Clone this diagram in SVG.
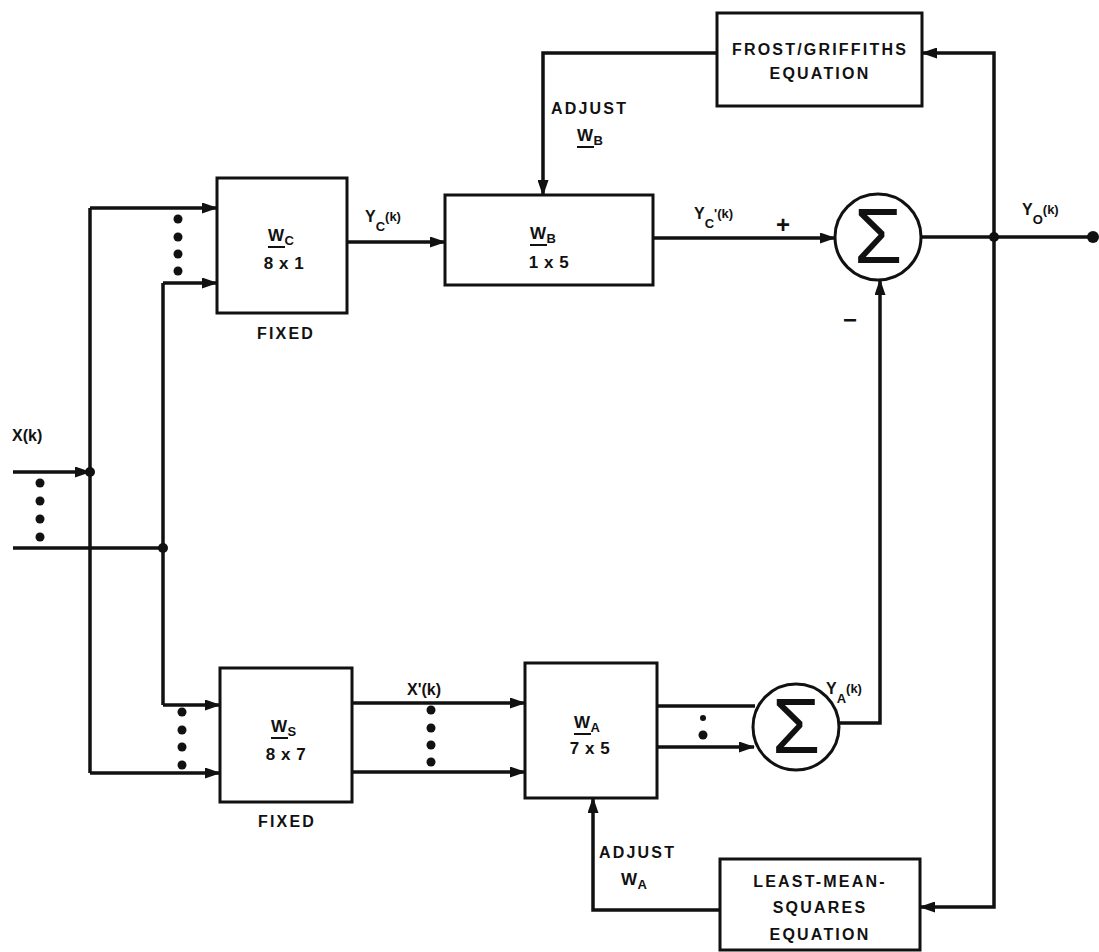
<svg xmlns="http://www.w3.org/2000/svg" width="1099" height="952" viewBox="0 0 1099 952">
<defs>
<marker id="ah" viewBox="0 0 16 11" refX="15" refY="5.5" markerWidth="16" markerHeight="11" markerUnits="userSpaceOnUse" orient="auto">
<path d="M0,0 L16,5.5 L0,11 Z" fill="#111"/>
</marker>
</defs>
<style>
.bx{fill:#fff;stroke:#111;stroke-width:3}
.ln{fill:none;stroke:#111;stroke-width:3.5}
.ar{fill:none;stroke:#111;stroke-width:3.5;marker-end:url(#ah)}
.dt{fill:#111}
text{font-family:"Liberation Sans",Arial,sans-serif;font-weight:bold;fill:#111}
.t{font-size:16px;letter-spacing:2.2px}
.m{font-size:17px;letter-spacing:0.5px}
.l{font-size:16px}
.s{font-size:13px}
.k{font-size:13px}
.sg{font-size:78px;font-weight:normal}
</style>
<rect width="1099" height="952" fill="#fff"/>
<g id="connectors">
<path class="ar" d="M13,472 L90,472"/>
<path class="ln" d="M13,548 L163,548"/>
<path class="ln" d="M90,208 L90,773"/>
<path class="ln" d="M163,283 L163,705"/>
<path class="ar" d="M90,208 L217,208"/>
<path class="ar" d="M163,283 L217,283"/>
<path class="ar" d="M163,705 L220,705"/>
<path class="ar" d="M90,773 L220,773"/>
<path class="ar" d="M347,242 L445,242"/>
<path class="ar" d="M653,238 L835,238"/>
<path class="ln" d="M921,237 L1093,237"/>
<path class="ar" d="M994,237 L994,53 L922,53"/>
<path class="ar" d="M994,237 L994,907 L920,907"/>
<path class="ar" d="M717,53 L543,53 L543,195"/>
<path class="ar" d="M352,703 L525,703"/>
<path class="ar" d="M352,772 L525,772"/>
<path class="ln" d="M657,706 L755,706"/>
<path class="ar" d="M657,747 L754,747"/>
<path class="ar" d="M838,723 L880,723 L880,280"/>
<path class="ar" d="M720,910 L593,910 L593,798"/>
</g>
<g id="dots">
<circle class="dt" cx="90" cy="472" r="5"/>
<circle class="dt" cx="163" cy="548" r="5"/>
<circle class="dt" cx="994" cy="237" r="5"/>
<circle class="dt" cx="1093" cy="237" r="6"/>
<circle class="dt" cx="40" cy="483" r="4.5"/><circle class="dt" cx="40" cy="501" r="4.5"/><circle class="dt" cx="40" cy="519" r="4.5"/><circle class="dt" cx="40" cy="537" r="4.5"/>
<circle class="dt" cx="178" cy="219" r="4.5"/><circle class="dt" cx="178" cy="237" r="4.5"/><circle class="dt" cx="178" cy="254" r="4.5"/><circle class="dt" cx="178" cy="271" r="4.5"/>
<circle class="dt" cx="182" cy="712" r="4.5"/><circle class="dt" cx="182" cy="730" r="4.5"/><circle class="dt" cx="182" cy="747" r="4.5"/><circle class="dt" cx="182" cy="765" r="4.5"/>
<circle class="dt" cx="431" cy="710" r="4.5"/><circle class="dt" cx="431" cy="728" r="4.5"/><circle class="dt" cx="431" cy="745" r="4.5"/><circle class="dt" cx="431" cy="762" r="4.5"/>
<circle class="dt" cx="703" cy="718" r="3"/><circle class="dt" cx="703" cy="735" r="4.5"/>
</g>
<g id="Wc">
<rect class="bx" x="217" y="178" width="130" height="135"/>
<text class="m" x="268" y="241">W<tspan class="s" dy="4">C</tspan></text>
<path class="ln" style="stroke-width:2" d="M268,247 L285,247"/>
<text class="m" x="284" y="269" text-anchor="middle">8 x 1</text>
<text class="t" x="286" y="339" text-anchor="middle">FIXED</text>
</g>
<g id="Wb">
<rect class="bx" x="445" y="195" width="208" height="90"/>
<text class="m" x="530" y="239">W<tspan class="s" dy="4">B</tspan></text>
<path class="ln" style="stroke-width:2" d="M530,245 L547,245"/>
<text class="m" x="549" y="268" text-anchor="middle">1 x 5</text>
</g>
<g id="Frost">
<rect class="bx" x="717" y="13" width="205" height="93"/>
<text class="t" x="820" y="55" text-anchor="middle">FROST/GRIFFITHS</text>
<text class="t" x="820" y="79" text-anchor="middle">EQUATION</text>
</g>
<g id="SumTop">
<circle class="bx" cx="878" cy="237" r="43"/>
<text class="sg" x="878" y="263" text-anchor="middle">Σ</text>
</g>
<g id="Ws">
<rect class="bx" x="220" y="668" width="132" height="134"/>
<text class="m" x="271" y="732">W<tspan class="s" dy="4">S</tspan></text>
<path class="ln" style="stroke-width:2" d="M271,738 L288,738"/>
<text class="m" x="286" y="760" text-anchor="middle">8 x 7</text>
<text class="t" x="287" y="827" text-anchor="middle">FIXED</text>
</g>
<g id="Wa">
<rect class="bx" x="525" y="663" width="132" height="135"/>
<text class="m" x="574" y="728">W<tspan class="s" dy="4">A</tspan></text>
<path class="ln" style="stroke-width:2" d="M574,734 L591,734"/>
<text class="m" x="590" y="754" text-anchor="middle">7 x 5</text>
</g>
<g id="SumBottom">
<circle class="bx" cx="796" cy="727" r="43"/>
<text class="sg" x="796" y="753" text-anchor="middle">Σ</text>
</g>
<g id="LMS">
<rect class="bx" x="720" y="859" width="200" height="91"/>
<text class="t" x="820" y="887" text-anchor="middle">LEAST-MEAN-</text>
<text class="t" x="820" y="913" text-anchor="middle">SQUARES</text>
<text class="t" x="820" y="940" text-anchor="middle">EQUATION</text>
</g>
<g id="labels">
<text class="l" x="12" y="441">X(k)</text>
<text class="l" x="365" y="222">Y<tspan class="s" dy="9">C</tspan><tspan class="k" dy="-10">(k)</tspan></text>
<text class="l" x="694" y="219">Y<tspan class="s" dy="9">C</tspan><tspan class="k" dy="-10">'(k)</tspan></text>
<text class="l" style="font-size:24px" x="776" y="233">+</text>
<text class="l" style="font-size:24px" x="843" y="328">−</text>
<text class="l" x="1022" y="215">Y<tspan class="s" dy="9">O</tspan><tspan class="k" dy="-10">(k)</tspan></text>
<text class="l" x="826" y="694">Y<tspan class="s" dy="9">A</tspan><tspan class="k" dy="-10">(k)</tspan></text>
<text class="l" x="407" y="695">X'(k)</text>
<text class="t" x="551" y="114">ADJUST</text>
<text class="m" x="577" y="141">W<tspan class="s" dy="4">B</tspan></text>
<path class="ln" style="stroke-width:2" d="M577,147 L594,147"/>
<text class="t" x="599" y="858">ADJUST</text>
<text class="m" x="621" y="885">W<tspan class="s" dy="4">A</tspan></text>
</g>
</svg>
